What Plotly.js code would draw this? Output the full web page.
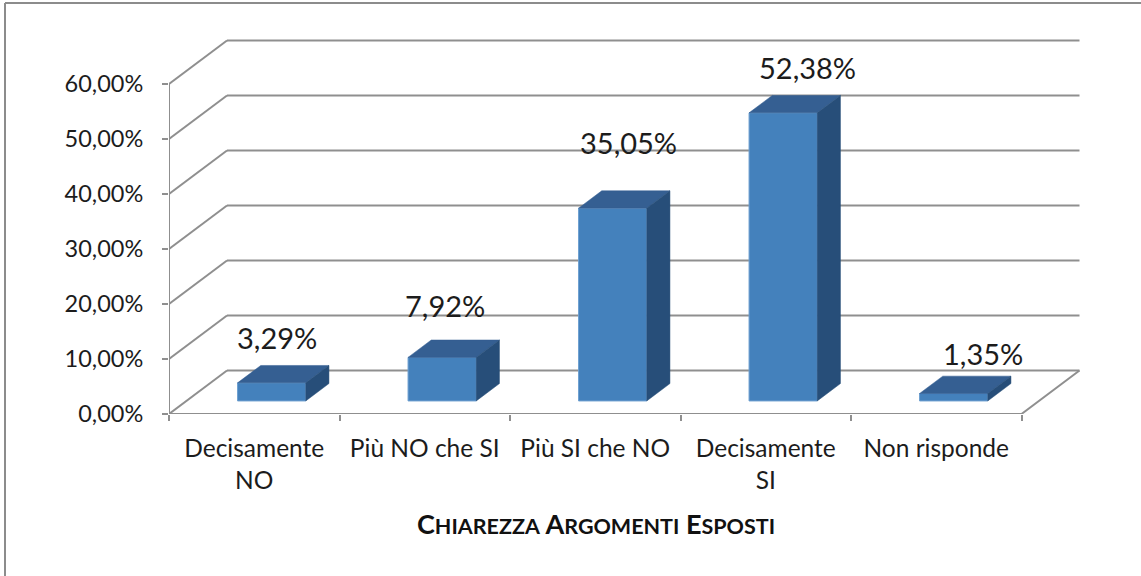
<!DOCTYPE html>
<html>
<head>
<meta charset="utf-8">
<script src="https://cdn.plot.ly/plotly-3.0.1.min.js"></script>
<style>html,body{margin:0;padding:0;background:#fff}</style>
</head>
<body>
<div id="chart"></div>
<script>
const categories = ['Decisamente<br>NO', 'Più NO che SI', 'Più SI che NO', 'Decisamente<br>SI', 'Non risponde'];
const values = [3.29, 7.92, 35.05, 52.38, 1.35];
const valueLabels = ['3,29%', '7,92%', '35,05%', '52,38%', '1,35%'];
const yTicks = [0, 10, 20, 30, 40, 50, 60];
const yTickLabels = ['0,00%', '10,00%', '20,00%', '30,00%', '40,00%', '50,00%', '60,00%'];
const labelShiftX = [5, 3, 16, 24, 29];
const labelShiftY = [45, 52, 66, 45, 40];

const W = 1141, H = 576;
const left = 169, bottom = 414, plotW = 921, plotH = 379;
const catPx = 170.5, unitPx = 5.5, depthPxX = 58, depthPxY = 43.5;
const depthX = depthPxX / catPx, depthY = depthPxY / unitPx;
const barWidth = 0.4, barFront = 0.3, barBack = 0.7;
const gridColor = '#8f8f8f';
const font = 'Lato, Carlito, sans-serif';
const textColor = '#1c1c1c';

const px = (x, d) => x + depthX * d;
const py = (v, d) => v + depthY * d;

// Walls and floor, apart from the back lines (drawn as shapes so they sit behind the bars)
const wallX = [], wallY = [];
yTicks.forEach(v => { wallX.push(px(0, 0), px(0, 1), null); wallY.push(py(v, 0), py(v, 1), null); });
wallX.push(px(0, 0), px(0, 0), null); wallY.push(0, 60, null);
wallX.push(px(0, 0), px(5, 0), px(5, 1)); wallY.push(0, 0, py(0, 1));

const backShapes = yTicks.map(v => ({
  type: 'line', layer: 'below', xref: 'x', yref: 'y',
  x0: px(0, 1), x1: px(5, 1), y0: py(v, 1), y1: py(v, 1),
  line: { color: gridColor, width: 2 }
}));

const frame = [[5, 576, 5, 3], [5, 3, 1141, 3]].map(s => ({
  type: 'line', xref: 'paper', yref: 'paper',
  x0: (s[0] - left) / plotW, x1: (s[2] - left) / plotW,
  y0: (bottom - s[1]) / plotH, y1: (bottom - s[3]) / plotH,
  line: { color: '#8c8c8c', width: 2 }
}));

const centre = i => i + 0.5;
const topX = [], topY = [], sideX = [], sideY = [];
values.forEach((v, i) => {
  const a = centre(i) - barWidth / 2, b = centre(i) + barWidth / 2;
  topX.push(px(a, barFront), px(b, barFront), px(b, barBack), px(a, barBack), px(a, barFront), null);
  topY.push(py(v, barFront), py(v, barFront), py(v, barBack), py(v, barBack), py(v, barFront), null);
  sideX.push(px(b, barFront), px(b, barBack), px(b, barBack), px(b, barFront), px(b, barFront), null);
  sideY.push(py(0, barFront), py(0, barBack), py(v, barBack), py(v, barFront), py(0, barFront), null);
});

const traces = [
  { type: 'scatter', mode: 'lines', x: wallX, y: wallY, cliponaxis: false, hoverinfo: 'skip',
    line: { color: gridColor, width: 2 } },
  { type: 'bar', x: values.map((v, i) => px(centre(i), barFront)), y: values,
    base: values.map(() => py(0, barFront)), width: barWidth,
    marker: { color: '#4481bc', line: { color: '#6d9fd0', width: 1 } }, hoverinfo: 'skip' },
  { type: 'scatter', mode: 'lines', x: topX, y: topY, fill: 'toself', fillcolor: '#355f92',
    line: { color: '#355f92', width: 0.5 }, hoverinfo: 'skip' },
  { type: 'scatter', mode: 'lines', x: sideX, y: sideY, fill: 'toself', fillcolor: '#274e79',
    line: { color: '#274e79', width: 0.5 }, hoverinfo: 'skip' }
];

const annotations = values.map((v, i) => ({
  x: px(centre(i), barFront), y: py(v, barFront), xref: 'x', yref: 'y',
  text: valueLabels[i], showarrow: false, xanchor: 'center', yanchor: 'middle',
  xshift: labelShiftX[i], yshift: labelShiftY[i],
  font: { family: font, size: 29, color: textColor }
}));

const small = s => '<span style="font-size:21.5px">' + s + '</span>';
const titleText = 'C' + small('HIAREZZA') + ' A' + small('RGOMENTI') + ' E' + small('SPOSTI');

const layout = {
  width: W, height: H, showlegend: false,
  paper_bgcolor: '#fff', plot_bgcolor: 'rgba(0,0,0,0)',
  margin: { l: left, r: W - left - plotW, t: bottom - plotH, b: H - bottom, pad: 0 },
  title: { text: titleText, x: 596 / W, xref: 'container', xanchor: 'center',
           y: 1 - 525 / H, yref: 'container', yanchor: 'middle',
           font: { family: font, size: 27, weight: 700, color: '#111' } },
  xaxis: {
    range: [0, plotW / catPx], tickmode: 'array',
    tickvals: categories.map((c, i) => centre(i)), ticktext: categories,
    ticks: 'outside', ticklen: 13, tickcolor: 'rgba(0,0,0,0)', showgrid: false, zeroline: false, showline: false,
    tickangle: 0, automargin: false, tickfont: { family: font, size: 24.5, color: textColor },
    minor: { tickmode: 'array', tickvals: [0, 1, 2, 3, 4, 5], ticks: 'outside', ticklen: 6,
             tickcolor: gridColor, tickwidth: 2, showgrid: false }
  },
  yaxis: {
    range: [0, plotH / unitPx], tickmode: 'array', tickvals: yTicks, ticktext: yTickLabels,
    ticks: 'outside', ticklen: 6, tickcolor: gridColor, tickwidth: 2,
    showgrid: false, zeroline: false, showline: false, automargin: false,
    ticklabelstandoff: 14, tickfont: { family: font, size: 23.5, color: textColor }
  },
  shapes: backShapes.concat(frame),
  annotations: annotations
};

Plotly.newPlot('chart', traces, layout, { displayModeBar: false, staticPlot: true });
</script>
</body>
</html>
